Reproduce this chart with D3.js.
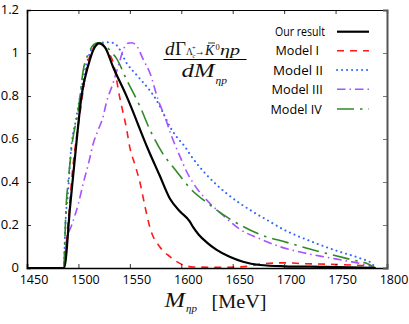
<!DOCTYPE html>
<html><head><meta charset="utf-8">
<script src="https://cdn.jsdelivr.net/npm/d3@7"></script>
<style>html,body{margin:0;padding:0;background:#fff;}svg{display:block;}</style>
</head><body>
<svg id="chart" width="409" height="324"></svg>
<script>
// ---- data ----
const xTicks = [1450, 1500, 1550, 1600, 1650, 1700, 1750, 1800];
const yTicks = [0, 0.2, 0.4, 0.6, 0.8, 1, 1.2];
const yTickLabels = ["0", "0.2", "0.4", "0.6", "0.8", "1", "1.2"];
const seriesNames = ["Our result", "Model I", "Model II", "Model III", "Model IV"];

const ourM = [1450, 1486, 1492, 1498, 1503, 1510, 1515, 1520, 1526, 1533.6, 1547, 1568, 1579, 1589, 1599, 1608, 1611.5, 1617, 1625, 1634.4, 1647, 1660, 1676.5, 1700, 1740, 1788.8];
const ourV = [0, 0, 0.29, 0.58, 0.80, 0.95, 1.02, 1.045, 1.025, 0.936, 0.797, 0.549, 0.43, 0.322, 0.262, 0.218, 0.19, 0.155, 0.118, 0.084, 0.052, 0.029, 0.014, 0.008, 0.005, 0];

const m1M = [1486, 1490, 1494, 1501.5, 1509, 1516, 1522, 1528, 1534, 1540, 1547, 1550, 1555, 1560, 1565, 1570, 1579, 1589, 1600, 1612, 1640, 1665, 1680, 1700, 1720, 1740, 1765, 1782, 1788.8];
const m1V = [0, 0.21, 0.44, 0.72, 0.95, 1.03, 1.045, 1.01, 0.952, 0.797, 0.642, 0.56, 0.48, 0.394, 0.28, 0.18, 0.099, 0.053, 0.018, 0.005, 0.003, 0.008, 0.02, 0.024, 0.02, 0.018, 0.014, 0.01, 0];

const m2M = [1486, 1487, 1490, 1492.8, 1498, 1501.5, 1508, 1514.5, 1522, 1530, 1537, 1547, 1558, 1569, 1576, 1582.5, 1589, 1595.5, 1603.6, 1610, 1624.7, 1644, 1666.8, 1684.6, 1699, 1725, 1751, 1774, 1785, 1788.8];
const m2V = [0, 0.16, 0.36, 0.55, 0.70, 0.797, 0.952, 1.03, 1.048, 1.05, 1.037, 0.952, 0.89, 0.828, 0.78, 0.72, 0.657, 0.61, 0.564, 0.518, 0.433, 0.347, 0.27, 0.22, 0.18, 0.126, 0.08, 0.045, 0.022, 0];

const m3M = [1486, 1488.5, 1493.5, 1500, 1504.7, 1510, 1514.5, 1519, 1524, 1527, 1533.6, 1540, 1544, 1548, 1552, 1557, 1563, 1569.6, 1577.6, 1584, 1590, 1598.8, 1605, 1611.7, 1626, 1641, 1657, 1676.5, 1696, 1718.6, 1741, 1760.8, 1780, 1788.8];
const m3V = [0, 0.13, 0.2, 0.3, 0.394, 0.49, 0.58, 0.64, 0.704, 0.766, 0.859, 0.96, 1.02, 1.045, 1.048, 1.03, 0.97, 0.906, 0.78, 0.704, 0.62, 0.518, 0.45, 0.394, 0.31, 0.243, 0.18, 0.136, 0.099, 0.071, 0.05, 0.033, 0.014, 0];

const m4M = [1486, 1488, 1490, 1493.7, 1499.9, 1504.7, 1510, 1515, 1519, 1525, 1531, 1537, 1547, 1560, 1569.6, 1581, 1595.6, 1608.5, 1626, 1649, 1666.8, 1686, 1696, 1717, 1741, 1767, 1780, 1788.8];
const m4V = [0, 0.285, 0.40, 0.572, 0.735, 0.92, 1.0, 1.04, 1.048, 1.04, 1.01, 0.975, 0.874, 0.75, 0.642, 0.54, 0.448, 0.371, 0.30, 0.223, 0.177, 0.14, 0.128, 0.099, 0.068, 0.037, 0.022, 0];

// ---- layout ----
const svg = d3.select("#chart");
const L = 27, R = 387, T = 10, B = 268;
const x = d3.scaleLinear().domain([1450, 1800]).range([L, R]);
const y = d3.scaleLinear().domain([0, 1.2]).range([B, T]);
const FONT = "'Open Sans', 'DejaVu Sans', sans-serif";
const SERIF = "'Liberation Serif', 'DejaVu Serif', serif";

svg.append("defs").append("clipPath").attr("id", "clip")
  .append("rect").attr("x", L).attr("y", T).attr("width", R - L).attr("height", B - T);

const styles = [
  {color: "#000000", width: 2.2, dash: null, cap: "butt"},
  {color: "#ff1a1a", width: 1.6, dash: "7,6", cap: "butt"},
  {color: "#3366ff", width: 2, dash: "0.1,4.9", cap: "round"},
  {color: "#a652ff", width: 1.6, dash: "8.5,4,1.5,4", cap: "butt"},
  {color: "#2f8a26", width: 1.6, dash: "17,6,2.5,6", cap: "butt"}
];
const seriesData = [[ourM, ourV], [m1M, m1V], [m2M, m2V], [m3M, m3V], [m4M, m4V]];

const line = d3.line().x(d => x(d[0])).y(d => y(d[1])).curve(d3.curveMonotoneX);
const plot = svg.append("g").attr("clip-path", "url(#clip)");
[1, 2, 3, 4, 0].forEach(i => {
  const [ms, vs] = seriesData[i];
  const pts = ms.map((m, k) => [m, vs[k]]);
  const s = styles[i];
  plot.append("path").datum(pts).attr("d", line)
    .attr("fill", "none").attr("stroke", s.color).attr("stroke-width", s.width)
    .attr("stroke-dasharray", s.dash).attr("stroke-linecap", s.cap)
    .attr("stroke-linejoin", "round");
});

// ---- axes (ticks inward on all sides) ----
const axB = svg.append("g").attr("transform", `translate(0,${B})`)
  .call(d3.axisBottom(x).tickValues(xTicks).tickSize(-4).tickPadding(7).tickFormat(d3.format("d")));
const axT = svg.append("g").attr("transform", `translate(0,${T})`)
  .call(d3.axisTop(x).tickValues(xTicks).tickSize(-4).tickFormat(""));
const axL = svg.append("g").attr("transform", `translate(${L},0)`)
  .call(d3.axisLeft(y).tickValues(yTicks).tickSize(-4).tickPadding(8).tickFormat((d, i) => yTickLabels[i]));
const axR = svg.append("g").attr("transform", `translate(${R},0)`)
  .call(d3.axisRight(y).tickValues(yTicks).tickSize(-4).tickFormat(""));

[axB, axT, axL, axR].forEach(g => {
  g.select(".domain").attr("stroke", "#000").attr("stroke-width", 1.2);
  g.selectAll(".tick line").attr("stroke", "#000").attr("stroke-width", 0.8);
  g.selectAll(".tick text").attr("font-family", FONT).attr("font-size", 13).attr("fill", "#000");
});
axB.selectAll(".tick text").attr("font-size", 12.5).attr("dx", 6.5).attr("dy", "0.71em");
axL.selectAll(".tick text").attr("dy", "0.3em");
axR.select(".domain").attr("stroke", "#555").attr("stroke-width", 2);
axR.selectAll(".tick line").attr("stroke", "#555");
axB.select(".domain").attr("stroke-width", 1.6);
axL.select(".domain").attr("stroke-width", 1.6);

// ---- legend ----
const legX = [275, 275.5, 273, 271.5, 270.5];
const legW = [50, 43.6, 50, 51.3, 51.3];
const legY = [31.7, 50.7, 70, 89.3, 109];
const leg = svg.append("g");
seriesNames.forEach((name, i) => {
  leg.append("text").attr("x", legX[i]).attr("y", legY[i]).attr("dy", "0.36em")
    .attr("font-family", FONT).attr("font-size", 13)
    .attr("textLength", legW[i]).attr("lengthAdjust", "spacingAndGlyphs")
    .text(name);
  const s = styles[i];
  leg.append("line").attr("x1", 337).attr("x2", 369).attr("y1", legY[i]).attr("y2", legY[i])
    .attr("stroke", s.color).attr("stroke-width", s.width)
    .attr("stroke-dasharray", s.dash).attr("stroke-linecap", s.cap);
});

// ---- formula: dΓ_{Λc+ → K̄0 ηp} / dM_ηp ----
const f = svg.append("g").attr("font-family", SERIF).attr("fill", "#111");
f.append("text").attr("x", 165).attr("y", 55).attr("font-size", 19).attr("font-style", "italic").text("d");
f.append("text").attr("x", 175).attr("y", 55).attr("font-size", 19).text("Γ");
f.append("text").attr("x", 186).attr("y", 55).attr("font-size", 9.5).text("Λ");
f.append("text").attr("x", 192).attr("y", 50).attr("font-size", 6.5).text("+");
f.append("text").attr("x", 192.5).attr("y", 58).attr("font-size", 6.5).attr("font-style", "italic").text("c");
f.append("text").attr("x", 194.5).attr("y", 55).attr("font-size", 12).attr("textLength", 10.5).attr("lengthAdjust", "spacingAndGlyphs").text("→");
f.append("text").attr("x", 205).attr("y", 55).attr("font-size", 14).attr("font-style", "italic").text("K");
f.append("line").attr("x1", 208).attr("x2", 215).attr("y1", 43).attr("y2", 43).attr("stroke", "#000").attr("stroke-width", 0.8);
f.append("text").attr("x", 215.5).attr("y", 49.5).attr("font-size", 8.5).text("0");
f.append("text").attr("x", 220).attr("y", 55).attr("font-size", 14).attr("font-style", "italic")
  .attr("textLength", 20).attr("lengthAdjust", "spacingAndGlyphs").text("ηp");
f.append("line").attr("x1", 163.5).attr("x2", 246.5).attr("y1", 59.5).attr("y2", 59.5).attr("stroke", "#000").attr("stroke-width", 1);
f.append("text").attr("x", 181.5).attr("y", 76.7).attr("font-size", 19).attr("font-style", "italic")
  .attr("textLength", 33).attr("lengthAdjust", "spacingAndGlyphs").text("dM");
f.append("text").attr("x", 215.5).attr("y", 84).attr("font-size", 10).attr("font-style", "italic")
  .attr("textLength", 11.5).attr("lengthAdjust", "spacingAndGlyphs").text("ηp");

// ---- x axis title ----
const xt = svg.append("g").attr("font-family", SERIF).attr("fill", "#111");
xt.append("text").attr("x", 164.5).attr("y", 307).attr("font-size", 21).attr("font-style", "italic")
  .attr("textLength", 20.5).attr("lengthAdjust", "spacingAndGlyphs").text("M");
xt.append("text").attr("x", 186).attr("y", 312).attr("font-size", 10).attr("font-style", "italic")
  .attr("textLength", 11).attr("lengthAdjust", "spacingAndGlyphs").text("ηp");
xt.append("text").attr("x", 211.5).attr("y", 308).attr("font-size", 19.5)
  .attr("textLength", 55).attr("lengthAdjust", "spacingAndGlyphs").text("[MeV]");
</script>
</body></html>
